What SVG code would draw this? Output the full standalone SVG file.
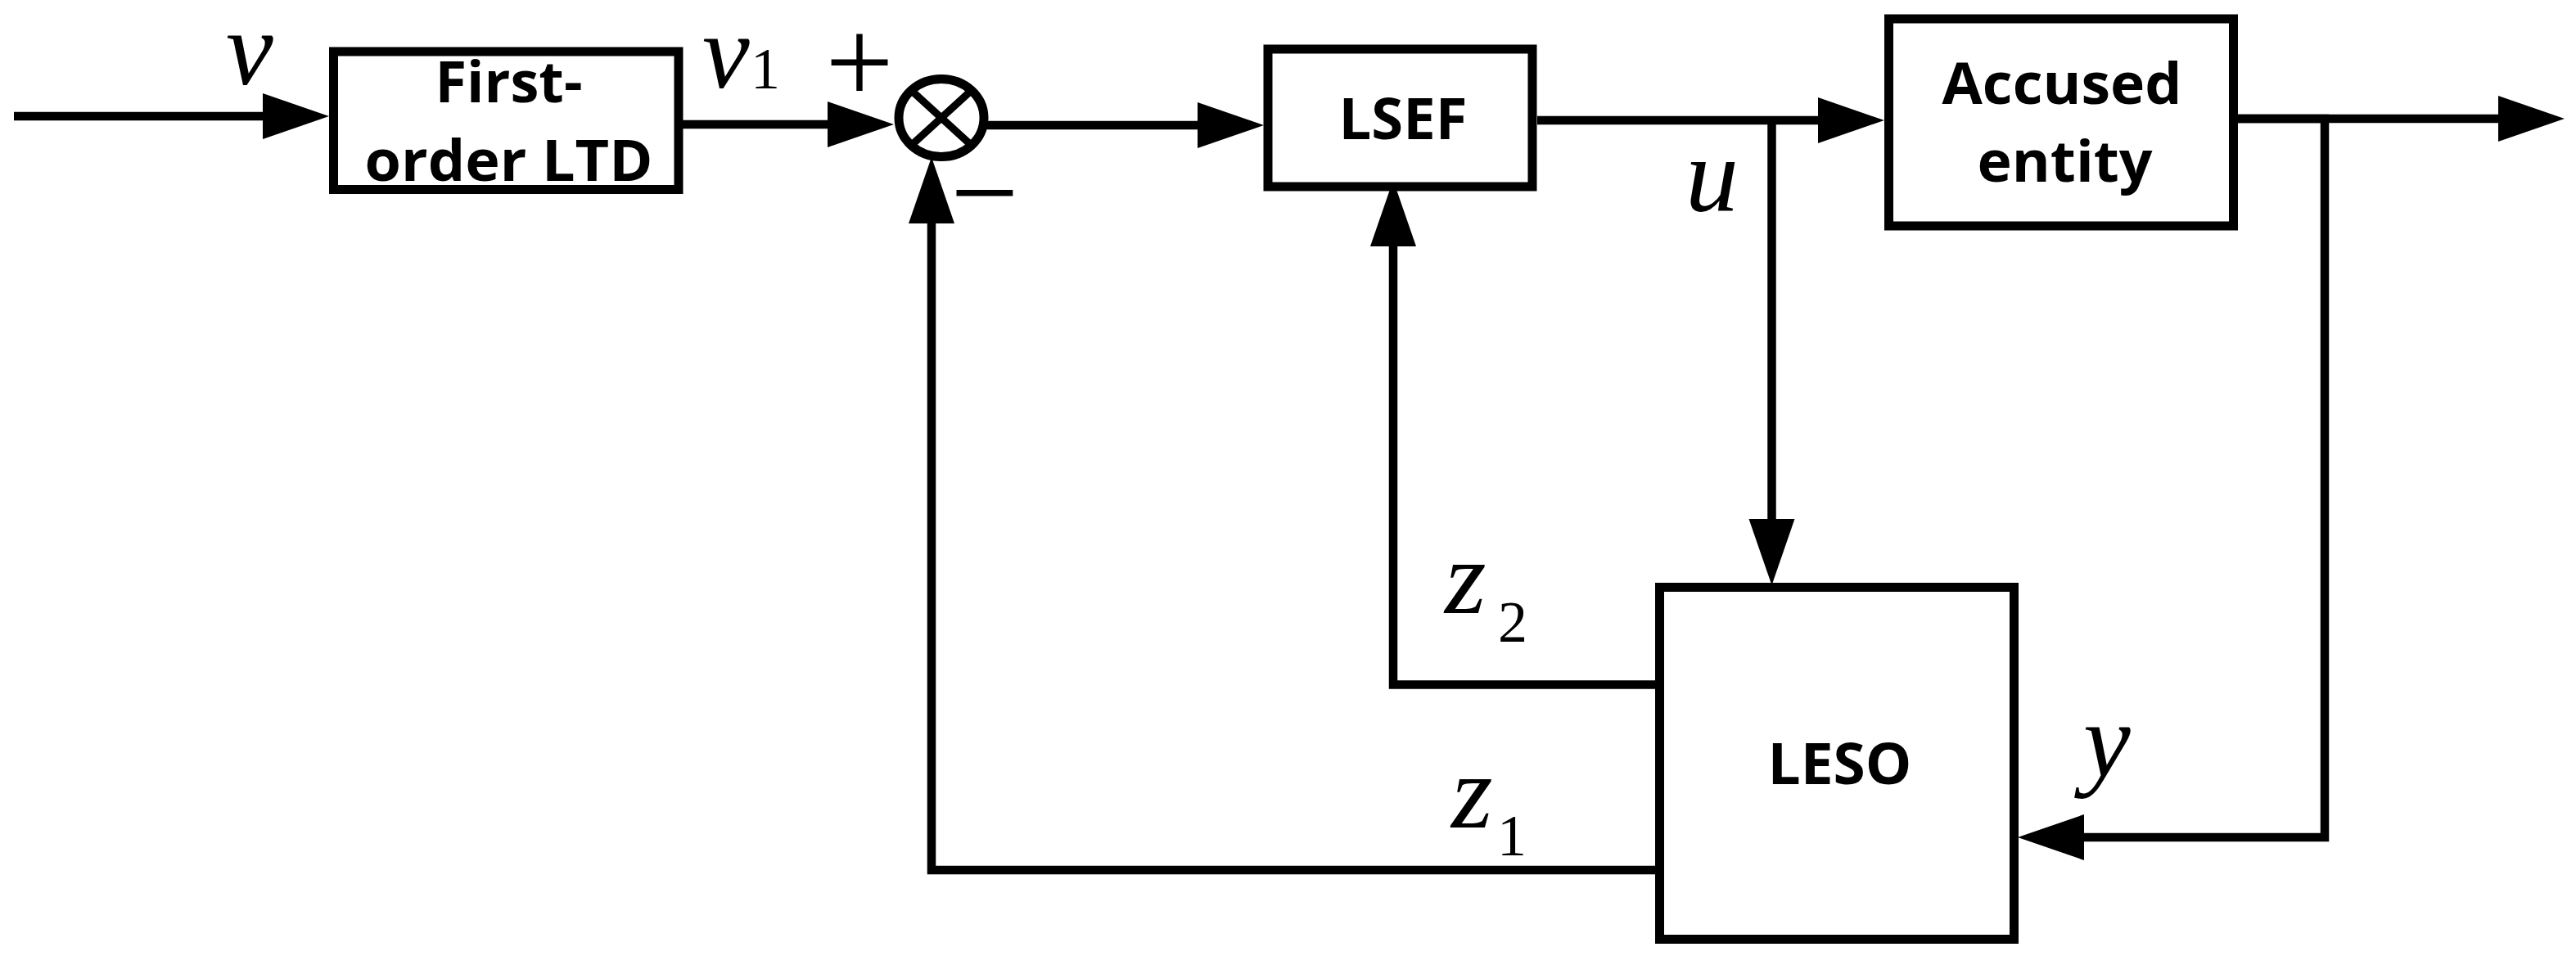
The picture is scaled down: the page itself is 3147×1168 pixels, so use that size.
<svg xmlns="http://www.w3.org/2000/svg" width="3147" height="1168" viewBox="0 0 3147 1168">
<style>
.box{fill:#fff;stroke:#000;stroke-width:11}
.lbl{font-family:"Open Sans","Liberation Sans",sans-serif;font-weight:bold;font-size:70px;fill:#000;text-anchor:middle}
.math{font-family:"Liberation Serif","Times New Roman",serif;font-style:italic;font-size:130px;fill:#000}
.num{font-family:"Liberation Serif","Times New Roman",serif;font-size:72px;fill:#000}
.sign{font-family:"Liberation Serif","Times New Roman",serif;font-size:148px;fill:#000;text-anchor:middle}
.wire{fill:none;stroke:#000;stroke-width:10.5;stroke-linejoin:miter}
</style>
<defs>
<marker id="arr" markerUnits="userSpaceOnUse" markerWidth="82" markerHeight="56" refX="0" refY="28" orient="auto" overflow="visible">
<path d="M0,0 L81,28 L0,56 Z" fill="#000"/>
</marker>
</defs>
<rect width="3147" height="1168" fill="#fff"/>
<g id="connectors">
<path class="wire" d="M17,142 H321" marker-end="url(#arr)"/>
<path class="wire" d="M834,152 H1011" marker-end="url(#arr)"/>
<path class="wire" d="M1205,153 H1463" marker-end="url(#arr)"/>
<path class="wire" d="M1878,147 H2221" marker-end="url(#arr)"/>
<path class="wire" d="M2734,145 H3052" marker-end="url(#arr)"/>
<path class="wire" d="M2164.5,147 V634" marker-end="url(#arr)"/>
<path class="wire" d="M2734,145 H2840 V1023 H2546" marker-end="url(#arr)"/>
<path class="wire" d="M2022,836.5 H1702 V301" marker-end="url(#arr)"/>
<path class="wire" d="M2022,1063 H1138 V273" marker-end="url(#arr)"/>
</g>
<g id="ltd">
<rect class="box" x="407.5" y="63" width="421.5" height="168.5"/>
<text class="lbl" x="621.5" y="125" textLength="180" lengthAdjust="spacingAndGlyphs">First-</text>
<text class="lbl" x="621.5" y="221" textLength="352" lengthAdjust="spacingAndGlyphs">order LTD</text>
</g>
<g id="sum">
<ellipse cx="1150" cy="144" rx="52" ry="47.5" fill="#fff" stroke="#000" stroke-width="11"/>
<line x1="1113.2" y1="110.4" x2="1186.8" y2="177.6" stroke="#000" stroke-width="9"/>
<line x1="1186.8" y1="110.4" x2="1113.2" y2="177.6" stroke="#000" stroke-width="9"/>
</g>
<g id="lsef">
<rect class="box" x="1549" y="60" width="323" height="168"/>
<text class="lbl" x="1714" y="170" textLength="157" lengthAdjust="spacingAndGlyphs">LSEF</text>
</g>
<g id="plant">
<rect class="box" x="2307.5" y="23" width="421" height="253"/>
<text class="lbl" x="2519" y="127" textLength="293" lengthAdjust="spacingAndGlyphs">Accused</text>
<text class="lbl" x="2522.5" y="222" textLength="214" lengthAdjust="spacingAndGlyphs">entity</text>
</g>
<g id="leso">
<rect class="box" x="2027.5" y="717.5" width="433" height="430"/>
<text class="lbl" x="2247.5" y="958" textLength="176" lengthAdjust="spacingAndGlyphs">LESO</text>
</g>
<g id="labels">
<text class="math" x="276" y="103">v</text>
<text class="math" x="858" y="107">v</text>
<text class="num" x="917" y="108">1</text>
<text class="sign" x="1050" y="126">+</text>
<text class="sign" x="1203" y="285">−</text>
<text class="math" x="2059" y="257">u</text>
<text class="math" x="1765" y="749">z</text>
<text class="num" x="1830" y="784">2</text>
<text class="math" x="1773" y="1011">z</text>
<text class="num" x="1829" y="1045">1</text>
<text class="math" x="2545" y="948">y</text>
</g>
</svg>
